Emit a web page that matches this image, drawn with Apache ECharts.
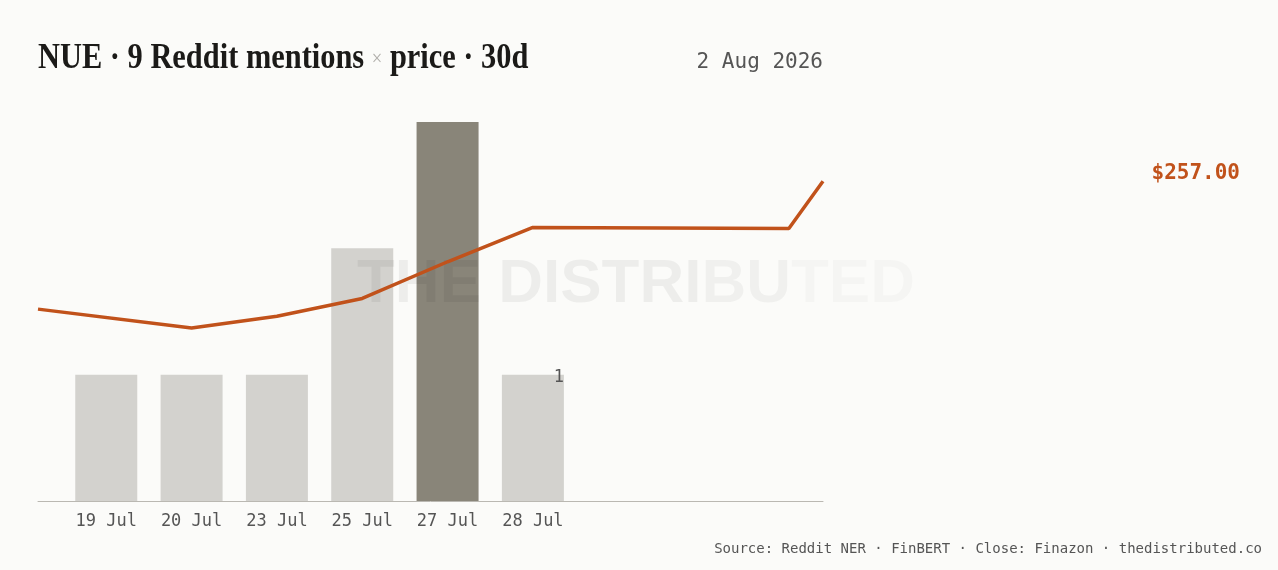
<!DOCTYPE html>
<html>
<head>
<meta charset="utf-8">
<title>NUE mentions x price</title>
<script src="https://cdn.jsdelivr.net/npm/echarts@6.0.0/dist/echarts.min.js"></script>
<style>
    html, body { margin: 0; padding: 0; background: #fbfbf9; }
    #chart { width: 1278px; height: 570px; }
</style>
</head>
<body>
<div id="chart"></div>
<script>
// mentions per day (bars)
var days = ['19 Jul', '20 Jul', '23 Jul', '25 Jul', '27 Jul', '28 Jul'];
var mentions = [1, 1, 1, 2, 3, 1];

// close price, x is the day slot (same slots as the bars)
var priceSlot = [-0.8, 1, 2, 3, 4, 5, 8, 8.4];
var priceClose = [246.2, 244.6, 245.6, 247.1, 250.2, 253.1, 253.0, 257.0];

var dateLabel = '2 Aug 2026';
var sourceLabel = 'Source: Reddit NER \u00b7 FinBERT \u00b7 Close: Finazon \u00b7 thedistributed.co';

var mono = '"DejaVu Sans Mono", "Liberation Mono", monospace';
var orange = '#c1521b';

var chart = echarts.init(document.getElementById('chart'));

function each(arr, fn) { for (var i = 0; i < arr.length; i++) fn(i, arr[i]); }

var peak = 0;
each(mentions, function (i, v) { if (v > peak) peak = v; });

var barData = [];
each(mentions, function (i, v) {
    var item = {
        value: [i, v],
        itemStyle: { color: v === peak ? '#898579' : '#d3d2ce' }
    };
    if (i === mentions.length - 1) {
        item.label = {
            show: true,
            position: ['100%', 0],
            offset: [0, 3],
            align: 'right',
            verticalAlign: 'middle',
            formatter: String(v),
            fontFamily: mono,
            fontSize: 17,
            color: '#555'
        };
    }
    barData.push(item);
});

var lineData = [];
each(priceSlot, function (i, x) { lineData.push([x, priceClose[i]]); });

var lastClose = priceClose[priceClose.length - 1];

var option = {
    backgroundColor: '#fbfbf9',
    animation: false,
    grid: { left: 38, right: 455, top: 122, bottom: 69 },
    xAxis: {
        type: 'value',
        min: -0.8,
        max: 8.4,
        splitLine: { show: false },
        axisLine: { show: true, onZero: false, lineStyle: { color: '#bab8b2', width: 1 } },
        axisTick: { show: false },
        axisLabel: {
            customValues: [0, 1, 2, 3, 4, 5],
            formatter: function (v) { return days[Math.round(v)] || ''; },
            fontFamily: mono,
            fontSize: 17,
            color: '#555',
            margin: 12
        }
    },
    yAxis: [
        { type: 'value', min: 0, max: 3, show: false, splitLine: { show: false } },
        { type: 'value', min: 230, max: 262, show: false, splitLine: { show: false } }
    ],
    graphic: [
        {
            type: 'text',
            left: 38,
            top: 41,
            scaleX: 0.845,
            style: {
                text: 'NUE \u00b7 9 Reddit mentions {x|\u00d7} price \u00b7 30d',
                font: 'bold 36px "Liberation Serif", serif',
                fill: '#1b1a18',
                rich: {
                    x: { fontSize: 22, fontWeight: 'normal', fill: '#b0aeaa', fontFamily: '"Liberation Serif", serif' }
                }
            }
        },
        {
            type: 'text',
            x: 823,
            y: 63,
            style: { text: dateLabel, font: '21px ' + mono, fill: '#555', align: 'right', verticalAlign: 'middle' }
        },
        {
            type: 'text',
            x: 1240,
            y: 174,
            style: { text: '$' + lastClose.toFixed(2), font: 'bold 21px ' + mono, fill: orange, align: 'right', verticalAlign: 'middle' }
        },
        {
            type: 'text',
            x: 1262,
            y: 549,
            style: { text: sourceLabel, font: '14px ' + mono, fill: '#555', align: 'right', verticalAlign: 'middle' }
        },
        {
            type: 'text',
            x: 357,
            y: 285,
            z: 3,
            silent: true,
            style: {
                text: '{a|THE DISTRI}{b|BU}{c|TED}',
                verticalAlign: 'middle',
                rich: {
                    a: { font: 'bold 62px "Liberation Sans", Arial, sans-serif', fill: 'rgba(0,0,0,0.055)' },
                    b: { font: 'bold 62px "Liberation Sans", Arial, sans-serif', fill: 'rgba(0,0,0,0.045)',
                         textShadowColor: 'rgba(0,0,0,0.03)', textShadowBlur: 4 },
                    c: { font: 'bold 62px "Liberation Sans", Arial, sans-serif', fill: 'rgba(0,0,0,0.025)',
                         textShadowColor: 'rgba(0,0,0,0.04)', textShadowBlur: 8 }
                }
            }
        }
    ],
    series: [
        {
            name: 'Mentions',
            type: 'bar',
            yAxisIndex: 0,
            barWidth: 62,
            z: 2,
            data: barData
        },
        {
            name: 'Close',
            type: 'line',
            yAxisIndex: 1,
            z: 5,
            showSymbol: false,
            symbol: 'none',
            lineStyle: { color: orange, width: 3.5 },
            data: lineData
        }
    ]
};

chart.setOption(option);
</script>
</body>
</html>
